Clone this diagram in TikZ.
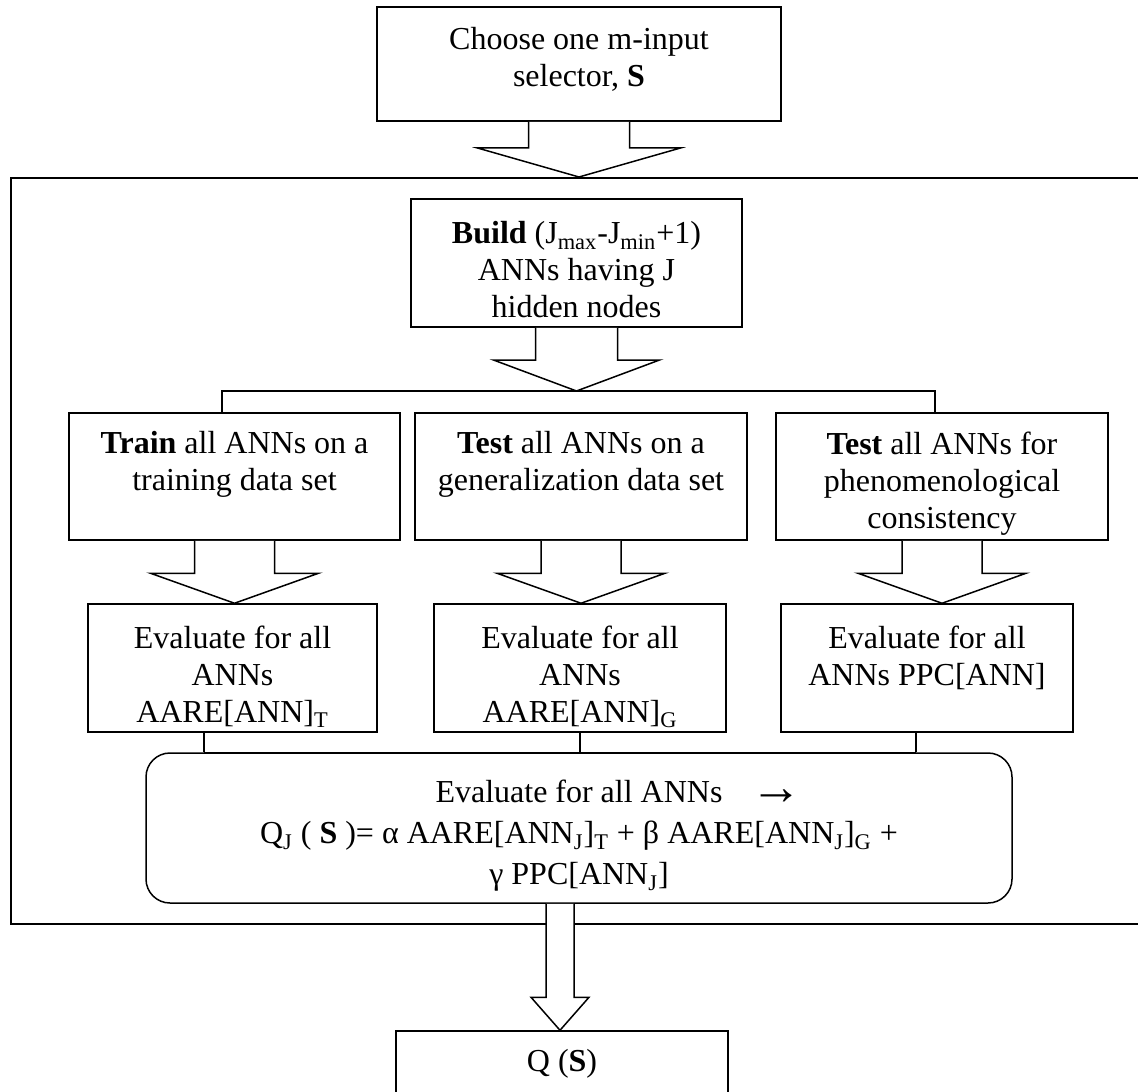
\documentclass[tikz,border=0pt]{standalone}
\usepackage{fontspec}
\setmainfont{Liberation Serif}
\usetikzlibrary{calc}

\tikzset{
  x=0.5pt, y=-0.5pt,
  every node/.style={font=\fontsize{16}{18.5}\selectfont},
  box/.style={draw, line width=0.75pt, inner sep=0pt},
  heavybox/.style={draw, line width=1pt, inner sep=0pt},
  txt/.style={align=center, inner sep=0pt},
  blk/.style={draw, line width=0.75pt, fill=white, line join=miter},
  link/.style={draw, line width=0.75pt},
}

% hollow block arrow: #1 source node, #2 tip point, #3 stem half-width,
% #4 head half-width, #5 head length
\newcommand\blockarrow[5]{%
  \draw[blk] let \p1=(#1.south), \p2=(#2) in
    (\x2-#3,\y1) -- (\x2-#3,\y2+#5) -- (\x2-#4,\y2+#5) -- (\x2,\y2)
    -- (\x2+#4,\y2+#5) -- (\x2+#3,\y2+#5) -- (\x2+#3,\y1);}

\begin{document}
\begin{tikzpicture}
\path[use as bounding box] (0,0) rectangle (1138,1091);
\clip (0,0) rectangle (1138,1091);

% outer frame around the evaluation loop
\node[heavybox, minimum width=569.5pt, minimum height=373pt] (frame) at (580.5,551) {};

% selector box
\node[heavybox, minimum width=202pt, minimum height=57pt] (top) at (579,64) {};
\node[txt] (toptext) at ($(top.center)+(0,-5)$) {Choose one m-input\\selector, \textbf{S}};

% build step
\node[box, minimum width=165.5pt, minimum height=64pt] (build) at (576.5,263) {};
\node[txt] (buildtext) at ($(build.center)+(0,7)$)
  {\textbf{Build} (J\textsubscript{max}-J\textsubscript{min}+1)\\ANNs having J\\hidden nodes};

% train / test steps
\node[box, minimum width=165.5pt, minimum height=63.5pt] (T1) at (234.5,476.5) {};
\node[box, minimum width=166pt, minimum height=63.5pt] (T2) at (581,476.5) {};
\node[box, minimum width=166pt, minimum height=63.5pt] (T3) at (942,476.5) {};
\node[txt, anchor=north] (T1text) at ($(T1.north)+(0,19)$)
  {\textbf{Train} all ANNs on a\\training data set};
\node[txt, anchor=north] (T2text) at ($(T2.north)+(0,19)$)
  {\textbf{Test} all ANNs on a\\generalization data set};
\node[txt, anchor=north] (T3text) at ($(T3.north)+(0,19)$)
  {\textbf{Test} all ANNs for\\phenomenological\\consistency};

% evaluation steps
\node[box, minimum width=144.5pt, minimum height=64pt] (B1) at (232.5,668) {};
\node[box, minimum width=146pt, minimum height=64pt] (B2) at (580,668) {};
\node[box, minimum width=146pt, minimum height=64pt] (B3) at (927,668) {};
\node[txt, anchor=north] (B1text) at ($(B1.north)+(0,22)$)
  {Evaluate for all\\ANNs\\AARE[ANN]\textsubscript{T}};
\node[txt, anchor=north] (B2text) at ($(B2.north)+(0,22)$)
  {Evaluate for all\\ANNs\\AARE[ANN]\textsubscript{G}};
\node[txt, anchor=north] (B3text) at ($(B3.north)+(0,22)$)
  {Evaluate for all\\ANNs PPC[ANN]};

% combined quality measure
\node[box, rounded corners=12pt, minimum width=433pt, minimum height=75pt] (R) at (579,828) {};
\node[txt, font=\fontsize{16}{20.5}\selectfont] (Rtext) at ($(R.center)+(0,8)$)
  {Evaluate for all ANNs\\
   Q\textsubscript{J} ( \textbf{S} )= α AARE[ANN\textsubscript{J}]\textsubscript{T} + β AARE[ANN\textsubscript{J}]\textsubscript{G} +\\
   γ PPC[ANN\textsubscript{J}]};
\node[inner sep=0pt, font=\fontsize{26}{28}\bfseries] (vecarrow) at (776,797) {→};

% result (its lower edge lies below the page)
\node[box, minimum width=166pt, minimum height=40pt] (q) at (562,1071) {};
\node[txt] (qtext) at (562,1064) {Q (\textbf{S})};

% branching to the three parallel steps
\coordinate (split) at (576.5,391);
\draw[link] ([xshift=-6.25pt]T1.north) |- (split) -| ([xshift=-3.5pt]T3.north);

% joining the evaluations into the combined measure
\draw[link] ([xshift=-14.25pt]B1.south) -- ([xshift=-14.25pt]B1.south |- R.north);
\draw[link] (B2.south) -- (B2.south |- R.north);
\draw[link] ([xshift=-5.5pt]B3.south) -- ([xshift=-5.5pt]B3.south |- R.north);
\draw[link] ([xshift=-14.25pt]B1.south |- R.north) -- ([xshift=-5.5pt]B3.south |- R.north);

% block arrows
\blockarrow{top}{top.south |- frame.north}{25.25pt}{50.75pt}{14.5pt}
\blockarrow{build}{split}{20.5pt}{41.5pt}{15.5pt}
\blockarrow{T1}{T1.south |- B1.north}{20pt}{42pt}{15pt}
\blockarrow{T2}{T2.south |- B2.north}{20pt}{42pt}{15pt}
\blockarrow{T3}{T3.south |- B3.north}{20pt}{42pt}{15pt}
\blockarrow{R}{[xshift=-1pt]q.north}{7pt}{14.5pt}{16.5pt}
\end{tikzpicture}
\end{document}
